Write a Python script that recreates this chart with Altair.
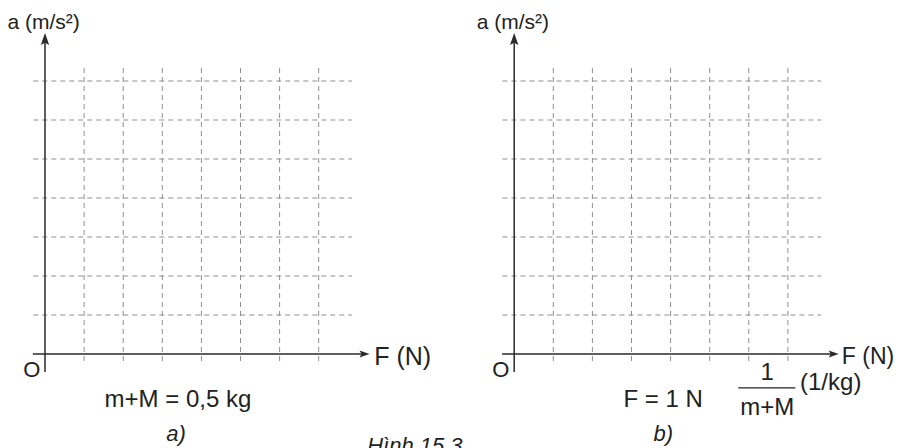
import altair as alt
import pandas as pd

# grid geometry in grid-cell units (one cell = one unit)
grid_ticks = [1, 2, 3, 4, 5, 6, 7]
panel_offsets = [0, 12]
vgrid_range = [-0.18, 7.36]
hgrid_range = [-0.3, 7.85]
xaxis_range = [-0.31, 8.3]
yaxis_range = [-0.46, 8.23]

# labels: (dx, dy, text, size, style, align, baseline)
panel_texts = [
    (-0.96, 8.49, "a (m/s²)", 21, "normal", "left", "middle"),
    (-0.34, -0.4, "O", 22, "normal", "center", "middle"),
]
force_label = "F\u00a0(N)"
force_label_pos = [(8.42, 25), (8.38, 23)]  # (dx, size) per panel
panel_a_texts = [
    (3.40, -1.36, "m+M\u00a0=\u00a00,5\u00a0kg", 24, "normal", "center", "alphabetic"),
    (3.35, -2.22, "a)", 22, "italic", "center", "alphabetic"),
    (8.24, -2.55, "Hình 15.3", 22, "italic", "left", "alphabetic"),
]
panel_b_texts = [
    (3.81, -1.36, "F\u00a0=\u00a01\u00a0N", 24, "normal", "center", "alphabetic"),
    (6.47, -0.66, "1", 24, "normal", "center", "alphabetic"),
    (6.47, -1.56, "m+M", 24, "normal", "center", "alphabetic"),
    (7.31, -0.74, "(1/kg)", 24, "normal", "left", "middle"),
    (3.81, -2.22, "b)", 22, "italic", "center", "alphabetic"),
]
fraction_bar = (5.73, 7.19, -0.87)

rows_full = []
for off, (fdx, fsz) in zip(panel_offsets, force_label_pos):
    for (dx, dy, s, fs, st, al, bl) in panel_texts:
        rows_full.append(dict(x=off + dx, y=dy, text=s, size=fs, style=st, align=al, baseline=bl))
    rows_full.append(dict(x=off + fdx, y=-0.08, text=force_label, size=fsz, style="normal",
                          align="left", baseline="middle"))
for (dx, dy, s, fs, st, al, bl) in panel_a_texts:
    rows_full.append(dict(x=panel_offsets[0] + dx, y=dy, text=s, size=fs, style=st, align=al, baseline=bl))
for (dx, dy, s, fs, st, al, bl) in panel_b_texts:
    rows_full.append(dict(x=panel_offsets[1] + dx, y=dy, text=s, size=fs, style=st, align=al, baseline=bl))
texts = pd.DataFrame(rows_full)

vlines = pd.DataFrame([dict(x=off + k, y=vgrid_range[0], y2=vgrid_range[1])
                       for off in panel_offsets for k in grid_ticks])
hlines = pd.DataFrame([dict(y=k, x=off + hgrid_range[0], x2=off + hgrid_range[1])
                       for off in panel_offsets for k in grid_ticks])
xaxes = pd.DataFrame([dict(y=0, x=off + xaxis_range[0], x2=off + xaxis_range[1] - 0.2)
                      for off in panel_offsets])
yaxes = pd.DataFrame([dict(x=off, y=yaxis_range[0], y2=yaxis_range[1] - 0.25)
                      for off in panel_offsets])
arrows_r = pd.DataFrame([dict(x=off + xaxis_range[1], y=0) for off in panel_offsets])
arrows_u = pd.DataFrame([dict(x=off, y=yaxis_range[1]) for off in panel_offsets])
bars = pd.DataFrame([dict(x=panel_offsets[1] + fraction_bar[0],
                          x2=panel_offsets[1] + fraction_bar[1], y=fraction_bar[2])])

unit_x = 39.1
unit_y = 39.0
W, H = 889, 440
xmin = -37 / unit_x
xmax = xmin + W / unit_x
ymax = 346 / unit_y
ymin = ymax - H / unit_y

xs = alt.Scale(domain=[xmin, xmax], nice=False, zero=False)
ys = alt.Scale(domain=[ymin, ymax], nice=False, zero=False)
X = lambda f="x": alt.X(f"{f}:Q", scale=xs, axis=None)
Y = lambda f="y": alt.Y(f"{f}:Q", scale=ys, axis=None)

grid_col = "#8f8f8f"
axis_col = "#2a2a2a"

v = alt.Chart(vlines).mark_rule(color=grid_col, strokeWidth=1, strokeDash=[5, 4]).encode(
    x=X(), y=Y(), y2="y2:Q")
h = alt.Chart(hlines).mark_rule(color=grid_col, strokeWidth=1, strokeDash=[5, 4]).encode(
    x=X(), x2="x2:Q", y=Y())
xa = alt.Chart(xaxes).mark_rule(color=axis_col, strokeWidth=1.5).encode(x=X(), x2="x2:Q", y=Y())
ya = alt.Chart(yaxes).mark_rule(color=axis_col, strokeWidth=1.5).encode(x=X(), y=Y(), y2="y2:Q")
ar = alt.Chart(arrows_r).mark_point(
    shape="M0,0 L-2,-0.7 L-1.6,0 L-2,0.7 Z", filled=True, size=100, color=axis_col, opacity=1
).encode(x=X(), y=Y())
au = alt.Chart(arrows_u).mark_point(
    shape="M0,0 L-0.7,2 L0,1.6 L0.7,2 Z", filled=True, size=144, color=axis_col, opacity=1
).encode(x=X(), y=Y())
fb = alt.Chart(bars).mark_rule(color="#222222", strokeWidth=1.2).encode(x=X(), x2="x2:Q", y=Y())

layers = [v, h, xa, ya, ar, au, fb]
for (st, al, bl), g in texts.groupby(["style", "align", "baseline"]):
    layers.append(
        alt.Chart(g).mark_text(font="Liberation Sans", fontStyle=st, align=al, baseline=bl,
                               color="#222222").encode(
            x=X(), y=Y(), text="text:N",
            size=alt.Size("size:Q", scale=None, legend=None))
    )

chart = alt.layer(*layers).properties(
    width=W, height=H, autosize="none", padding=0
).configure_view(stroke=None)

chart.save("out.html", embed_options={"renderer": "svg", "actions": False})
